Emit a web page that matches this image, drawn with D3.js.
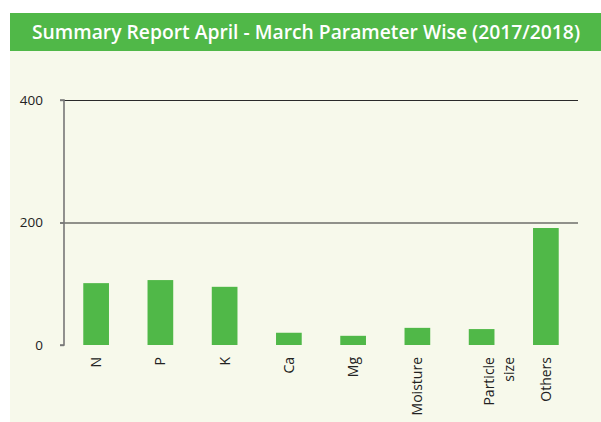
<!DOCTYPE html>
<html><head><meta charset="utf-8">
<script src="https://cdn.jsdelivr.net/npm/d3@7/dist/d3.min.js"></script>
<style>html,body{margin:0;padding:0;background:#fff;}svg{display:block;}</style>
</head><body>
<svg id="chart" width="601" height="422"></svg>
<script>
const title = "Summary Report April - March Parameter Wise (2017/2018)";
const categories = ["N", "P", "K", "Ca", "Mg", "Moisture", "Particle size", "Others"];
const values = [101, 106, 95, 20, 15, 28, 26, 191];
const yTicks = [0, 200, 400];

const svg = d3.select("#chart");
const green = "#50b848";
svg.append("rect").attr("x", 10).attr("y", 51).attr("width", 591).attr("height", 371).attr("fill", "#f7f9eb");
svg.append("rect").attr("x", 10).attr("y", 13).attr("width", 591).attr("height", 38).attr("fill", green);
svg.append("text").attr("x", 32).attr("y", 39).attr("fill", "#fff")
  .attr("font-family", "'Open Sans', sans-serif").attr("font-weight", 600).attr("font-size", 19)
  .attr("textLength", 548).attr("lengthAdjust", "spacingAndGlyphs").text(title);

const x0 = 64, x1 = 578, yTop = 100, yBot = 345;
const x = d3.scaleBand().domain(categories).range([x0, x1]).paddingInner(0.6).paddingOuter(0.3);
const y = d3.scaleLinear().domain([0, 400]).range([yBot, yTop]);

// gridlines
svg.append("g").selectAll("line").data(yTicks.filter(d => d > 0)).join("line")
  .attr("x1", 60).attr("x2", x1).attr("y1", d => y(d) + 0.5).attr("y2", d => y(d) + 0.5)
  .attr("stroke", "#2a2a2a").attr("stroke-width", 1.2);

// y axis
const yAxis = d3.axisLeft(y).tickValues(yTicks).tickSize(4).tickPadding(17).tickFormat(d3.format("d"));
const gy = svg.append("g").attr("transform", `translate(${x0},0)`).call(yAxis);
gy.select(".domain").attr("stroke", "#777").attr("stroke-width", 1.6).attr("d", `M-4,${yTop}H0V${yBot}H-4`);
gy.selectAll(".tick line").attr("stroke", "#777").attr("stroke-width", 1.4);
gy.selectAll(".tick text").attr("font-family", "'Open Sans', sans-serif").attr("font-size", 13.5).attr("fill", "#222");

// bars
svg.append("g").selectAll("rect").data(values).join("rect")
  .attr("x", (d, i) => x(categories[i])).attr("width", x.bandwidth())
  .attr("y", d => y(d)).attr("height", d => yBot - y(d)).attr("fill", green);

// x labels rotated
const lab = svg.append("g").selectAll("text").data(categories).join("text")
  .attr("transform", d => `translate(${x(d) + x.bandwidth() / 2},357) rotate(-90)`)
  .attr("text-anchor", "end")
  .attr("font-family", "'Open Sans', sans-serif").attr("font-size", 14).attr("fill", "#222");
lab.each(function (d) {
  const words = d.split(" ");
  const t = d3.select(this);
  if (words.length === 1) {
    t.append("tspan").attr("x", 0).attr("dy", 5).text(d);
  } else {
    words.forEach((w, k) => t.append("tspan").attr("x", 0).attr("dy", k === 0 ? 12 : 20).text(w));
  }
});
</script>
</body></html>
